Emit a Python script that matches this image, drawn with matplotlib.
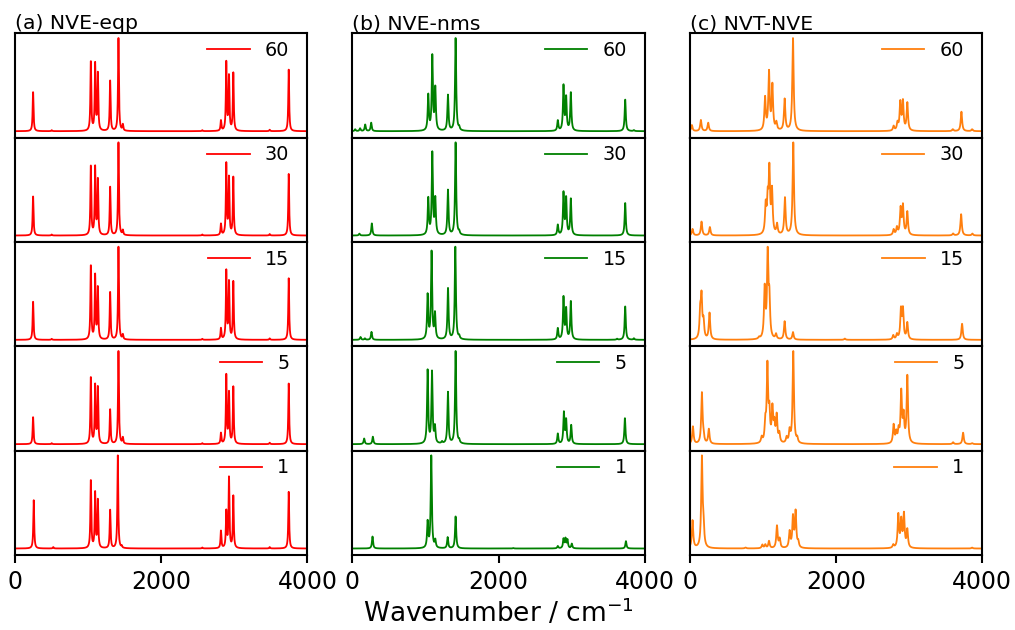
"""Espectros vibracionales normalizados para tres protocolos de muestreo y cinco tiempos."""

import matplotlib.pyplot as plt
import numpy as np


# ── Eje de numero de onda y etiquetas ────────────────────────────────────────

NUMERO_ONDA = np.arange(0.0, 4001.0, 2.0)
TIEMPOS = ["60", "30", "15", "5", "1"]
TITULOS = ["(a) NVE-eqp", "(b) NVE-nms", "(c) NVT-NVE"]
COLORES = ["red", "green", "#ff7f0e"]
SEMIANCHOS = [7.0, 9.0, 11.0]  # semiancho lorentziano por protocolo, cm-1

# ── (a) NVE-eqp: posiciones (cm-1) y alturas relativas ───────────────────────

EQP_POS = [247, 502, 1037, 1096, 1133, 1301, 1415, 1475, 2562, 2817, 2890, 2927, 2986, 3484, 3744]
EQP_60 = [0.42, 0.01, 0.74, 0.70, 0.61, 0.54, 1.0, 0.065, 0.01, 0.11, 0.72, 0.58, 0.61, 0.015, 0.65]
EQP_30 = [0.42, 0.01, 0.74, 0.71, 0.59, 0.52, 1.0, 0.05, 0.01, 0.12, 0.75, 0.61, 0.61, 0.015, 0.65]
EQP_15 = [0.41, 0.01, 0.79, 0.67, 0.55, 0.51, 1.0, 0.05, 0.01, 0.12, 0.72, 0.61, 0.61, 0.015, 0.65]
EQP_5 = [0.29, 0.01, 0.71, 0.61, 0.60, 0.37, 1.0, 0.065, 0.01, 0.115, 0.72, 0.54, 0.60, 0.015, 0.64]
EQP_1_POS = [256, 523, 1037, 1096, 1133, 1301, 1406, 1460, 2562, 2817, 2890, 2927, 2986, 3484, 3744]
EQP_1 = [0.52, 0.015, 0.74, 0.59, 0.52, 0.42, 1.0, 0.02, 0.01, 0.19, 0.39, 0.77, 0.56, 0.015, 0.61]

# ── (b) NVE-nms ──────────────────────────────────────────────────────────────

NMS_60_POS = [37, 104, 174, 256, 1037, 1092, 1133, 1306, 1411, 1460, 2809, 2887, 2923, 2987, 3731, 3850]
NMS_60 = [0.02, 0.03, 0.07, 0.09, 0.38, 0.79, 0.45, 0.38, 1.0, 0.03, 0.11, 0.48, 0.35, 0.41, 0.34, 0.01]
NMS_30_POS = [95, 265, 1037, 1092, 1133, 1306, 1411, 1460, 2809, 2887, 2923, 2987, 3731]
NMS_30 = [0.02, 0.13, 0.39, 0.87, 0.38, 0.48, 1.0, 0.03, 0.11, 0.45, 0.39, 0.39, 0.35]
NMS_15_POS = [110, 170, 260, 1028, 1082, 1129, 1307, 1407, 1460, 2809, 2887, 2923, 2987, 3620, 3731, 3850]
NMS_15 = [0.03, 0.015, 0.085, 0.47, 0.93, 0.27, 0.55, 1.0, 0.03, 0.12, 0.45, 0.32, 0.41, 0.01, 0.36, 0.015]
NMS_5_POS = [160, 279, 1028, 1088, 1128, 1225, 1306, 1411, 1460, 2809, 2892, 2923, 2992, 3727]
NMS_5 = [0.06, 0.08, 0.78, 0.76, 0.17, 0.02, 0.55, 1.0, 0.03, 0.11, 0.33, 0.25, 0.20, 0.28]
NMS_1_POS = [274, 1028, 1078, 1133, 1302, 1411, 2200, 2809, 2887, 2914, 2941, 3000, 3741]
NMS_1 = [0.13, 0.28, 1.0, 0.08, 0.12, 0.35, 0.005, 0.025, 0.10, 0.10, 0.09, 0.05, 0.08]

# ── (c) NVT-NVE ──────────────────────────────────────────────────────────────

NVT_60_POS = [27, 150, 250, 1028, 1082, 1128, 1182, 1296, 1410, 2787, 2840, 2878, 2914, 2974,
              3596, 3714, 3860]
NVT_60 = [0.065, 0.12, 0.09, 0.35, 0.62, 0.48, 0.08, 0.34, 1.0, 0.05, 0.08, 0.30, 0.31, 0.30,
          0.02, 0.21, 0.02]
NVT_30_POS = [36, 159, 273, 1037, 1064, 1087, 1123, 1192, 1300, 1414, 2787, 2832, 2882, 2914,
              2974, 3600, 3710, 3864]
NVT_30 = [0.07, 0.15, 0.09, 0.30, 0.34, 0.67, 0.46, 0.11, 0.40, 1.0, 0.06, 0.08, 0.28, 0.31,
          0.25, 0.02, 0.23, 0.02]
NVT_15_POS = [141, 159, 186, 268, 946, 1023, 1064, 1087, 1178, 1296, 1410, 2119, 2782, 2832,
              2887, 2914, 2974, 3723]
NVT_15 = [0.31, 0.48, 0.20, 0.32, 0.02, 0.60, 1.0, 0.45, 0.06, 0.22, 0.09, 0.015, 0.05, 0.06,
          0.35, 0.35, 0.20, 0.195]
NVT_5_POS = [41, 164, 186, 259, 982, 1032, 1060, 1087, 1128, 1155, 1187, 1223, 1323, 1364, 1414,
             1468, 2787, 2823, 2855, 2891, 2923, 2974, 3600, 3737, 3860]
NVT_5 = [0.19, 0.55, 0.06, 0.16, 0.06, 0.20, 0.82, 0.31, 0.36, 0.19, 0.29, 0.10, 0.06, 0.13, 1.0,
         0.05, 0.20, 0.11, 0.13, 0.55, 0.28, 0.73, 0.02, 0.125, 0.01]
NVT_1_POS = [36, 164, 186, 760, 991, 1032, 1082, 1191, 1228, 1364, 1410, 1446, 1482, 2782, 2851,
             2891, 2928, 2974, 3860]
NVT_1 = [0.31, 1.0, 0.20, 0.01, 0.04, 0.04, 0.08, 0.25, 0.10, 0.18, 0.34, 0.40, 0.06, 0.035, 0.37,
         0.30, 0.37, 0.20, 0.01]

PANELES = [
    [(EQP_POS, EQP_60), (EQP_POS, EQP_30), (EQP_POS, EQP_15), (EQP_POS, EQP_5), (EQP_1_POS, EQP_1)],
    [(NMS_60_POS, NMS_60), (NMS_30_POS, NMS_30), (NMS_15_POS, NMS_15), (NMS_5_POS, NMS_5),
     (NMS_1_POS, NMS_1)],
    [(NVT_60_POS, NVT_60), (NVT_30_POS, NVT_30), (NVT_15_POS, NVT_15), (NVT_5_POS, NVT_5),
     (NVT_1_POS, NVT_1)],
]


def _espectro(posiciones: list[float], alturas: list[float], semiancho: float) -> np.ndarray:
    """Ensancha las bandas con perfiles lorentzianos y normaliza al maximo.

    :param posiciones: centros de banda en cm-1.
    :param alturas: intensidades relativas de cada banda.
    :param semiancho: semiancho a media altura en cm-1.
    :return: intensidad sobre NUMERO_ONDA.
    """
    intensidad = np.zeros_like(NUMERO_ONDA)
    for centro, altura in zip(posiciones, alturas):
        intensidad += altura * semiancho**2 / ((NUMERO_ONDA - centro) ** 2 + semiancho**2)
    return intensidad / intensidad.max()


def main() -> None:
    """Dibuja la rejilla de espectros y guarda out.png."""
    figura, ejes = plt.subplots(5, 3, figsize=(10.15, 6.3), dpi=100, sharex=True)
    figura.subplots_adjust(left=0.0148, right=0.9678, top=0.947, bottom=0.119,
                           hspace=0.0, wspace=0.154)

    for columna in range(3):
        for fila in range(5):
            eje = ejes[fila, columna]
            posiciones, alturas = PANELES[columna][fila]
            eje.plot(NUMERO_ONDA, _espectro(posiciones, alturas, SEMIANCHOS[columna]),
                     color=COLORES[columna], linewidth=1.3, label=TIEMPOS[fila])
            eje.set_xlim(0, 4000)
            eje.set_ylim(-0.07, 1.05)
            eje.set_yticks([])
            for borde in eje.spines.values():
                borde.set_linewidth(1.5)
            eje.legend(loc="upper right", bbox_to_anchor=(0.964, 1.0), borderaxespad=0.0,
                       frameon=False, fontsize=13.8, handlelength=2.2)
            if fila < 4:
                eje.tick_params(axis="x", bottom=False, labelbottom=False)
            else:
                eje.set_xticks([0, 2000, 4000])
                eje.tick_params(axis="x", labelsize=17, length=5.5, width=1.5, pad=5)
        ejes[0, columna].set_title(TITULOS[columna], loc="left", fontsize=14.7, pad=3)

    ejes[4, 1].set_xlabel("Wavenumber / cm$^{-1}$", fontsize=19, labelpad=3)
    figura.savefig("out.png", dpi=100)
    plt.close(figura)


if __name__ == "__main__":
    main()
